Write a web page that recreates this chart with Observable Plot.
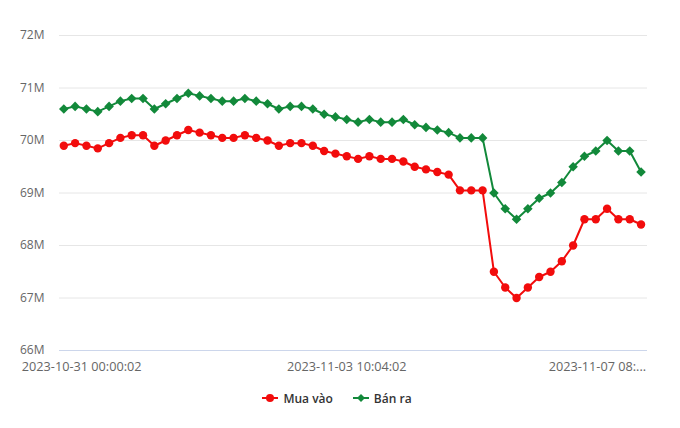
<!DOCTYPE html>
<html>
<head>
<meta charset="utf-8">
<script src="https://cdn.jsdelivr.net/npm/d3@7"></script>
<script src="https://cdn.jsdelivr.net/npm/@observablehq/plot@0.6"></script>
<style>
  body { margin: 0; background: #fff; font-family: "Open Sans", sans-serif; }
  #legend { display: flex; justify-content: center; align-items: center; height: 28px; margin-top: 0px; font-size: 12px; font-weight: 600; color: #333; gap: 20px; padding-right: 6px; }
  .item { display: flex; align-items: center; gap: 5px; }
</style>
</head>
<body>
<div id="chart"></div>
<div id="legend"></div>
<script>
const buyValues = [69.9, 69.95, 69.9, 69.85, 69.95, 70.05, 70.1, 70.1, 69.9, 70.0,
  70.1, 70.2, 70.15, 70.1, 70.05, 70.05, 70.1, 70.05, 70.0, 69.9,
  69.95, 69.95, 69.9, 69.8, 69.75, 69.7, 69.65, 69.7, 69.65, 69.65,
  69.6, 69.5, 69.45, 69.4, 69.35, 69.05, 69.05, 69.05, 67.5, 67.2,
  67.0, 67.2, 67.4, 67.5, 67.7, 68.0, 68.5, 68.5, 68.7, 68.5,
  68.5, 68.4];
const sellValues = [70.6, 70.65, 70.6, 70.55, 70.65, 70.75, 70.8, 70.8, 70.6, 70.7,
  70.8, 70.9, 70.85, 70.8, 70.75, 70.75, 70.8, 70.75, 70.7, 70.6,
  70.65, 70.65, 70.6, 70.5, 70.45, 70.4, 70.35, 70.4, 70.35, 70.35,
  70.4, 70.3, 70.25, 70.2, 70.15, 70.05, 70.05, 70.05, 69.0, 68.7,
  68.5, 68.7, 68.9, 69.0, 69.2, 69.5, 69.7, 69.8, 70.0, 69.8,
  69.8, 69.4];
const seriesNames = ["Mua vào", "Bán ra"];
const seriesColors = ["#f20c0c", "#12893a"];
const yTicks = [66, 67, 68, 69, 70, 71, 72];
const xTickLabels = [
  {i: 0, label: "2023-10-31 00:00:02"},
  {i: 25, label: "2023-11-03 10:04:02"},
  {i: 51, label: "2023-11-07 08:..."}
];

const buy = buyValues.map((v, i) => ({i, v}));
const sell = sellValues.map((v, i) => ({i, v}));

const chart = Plot.plot({
  width: 680,
  height: 384,
  marginTop: 35,
  marginBottom: 34,
  marginLeft: 59,
  marginRight: 33,
  style: {fontFamily: "Open Sans, sans-serif", fontSize: "12px", color: "#666"},
  x: {domain: [-0.38, 51.57], axis: null},
  y: {domain: [66, 72], axis: null},
  marks: [
    Plot.ruleY(yTicks.filter(d => d !== 66), {stroke: "#e6e6e6", strokeWidth: 1}),
    Plot.ruleY([66], {stroke: "#ccd6eb", strokeWidth: 1}),
    Plot.text(yTicks, {x: -0.38, y: d => d, text: d => d + "M", textAnchor: "end", dx: -15, fill: "#666", fontSize: 12}),
    Plot.text(xTickLabels.filter(d => d.i === 0), {x: "i", y: 66, text: "label", textAnchor: "start", dx: -42, dy: 16, fill: "#666", fontSize: 12.7}),
    Plot.text(xTickLabels.filter(d => d.i === 25), {x: "i", y: 66, text: "label", textAnchor: "middle", dy: 16, fill: "#666", fontSize: 12.7}),
    Plot.text(xTickLabels.filter(d => d.i === 51), {x: "i", y: 66, text: "label", textAnchor: "end", dx: 5, dy: 16, fill: "#666", fontSize: 12.7}),
    Plot.line(buy, {x: "i", y: "v", stroke: seriesColors[0], strokeWidth: 2}),
    Plot.dot(buy, {x: "i", y: "v", fill: seriesColors[0], r: 4.2, symbol: "circle"}),
    Plot.line(sell, {x: "i", y: "v", stroke: seriesColors[1], strokeWidth: 2}),
    Plot.dot(sell, {x: "i", y: "v", fill: seriesColors[1], r: 4.3, symbol: "diamond2"})
  ]
});
document.getElementById("chart").appendChild(chart);

const legend = document.getElementById("legend");
const symbols = ["circle", "diamond"];
seriesNames.forEach((name, k) => {
  const item = document.createElement("div");
  item.className = "item";
  const shape = symbols[k] === "circle"
    ? `<circle cx="8" cy="6" r="4" fill="${seriesColors[k]}"/>`
    : `<path d="M8,2 L12,6 L8,10 L4,6 Z" fill="${seriesColors[k]}"/>`;
  item.innerHTML = `<svg width="16" height="12"><line x1="0" y1="6" x2="16" y2="6" stroke="${seriesColors[k]}" stroke-width="2"/>${shape}</svg><span>${name}</span>`;
  legend.appendChild(item);
});
</script>
</body>
</html>
